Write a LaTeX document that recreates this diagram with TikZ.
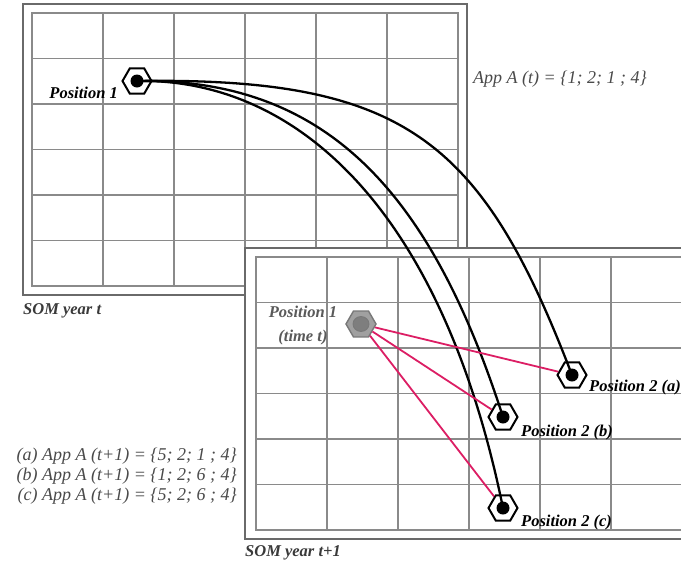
\documentclass[tikz,border=0pt]{standalone}
\usepackage{fontspec}
\setmainfont{Liberation Serif}
\usetikzlibrary{shapes.geometric}
\definecolor{gridc}{HTML}{8A8A8A}
\definecolor{framec}{HTML}{6A6A6A}
\definecolor{pinkc}{HTML}{DC1E64}
\definecolor{txtgray}{HTML}{4A4A4A}
\definecolor{lblgray}{HTML}{5A5A5A}
\definecolor{somgray}{HTML}{3A3A3A}
\definecolor{hexfill}{HTML}{A0A0A0}
\definecolor{hexborder}{HTML}{787878}
\definecolor{hexcore}{HTML}{7E7E7E}
\begin{document}
\begin{tikzpicture}[x=1pt,y=-1pt,
  hexb/.style={regular polygon, regular polygon sides=6, minimum size=29pt, inner sep=0pt, draw=black, line width=2pt},
  hexg/.style={regular polygon, regular polygon sides=6, minimum size=30pt, inner sep=0pt, draw=hexborder, fill=hexfill, line width=1.4pt},
  gridline/.style={draw=gridc, line width=1.4pt},
  frameline/.style={draw=framec, line width=2.6pt},
  lbl/.style={font=\fontsize{16.5}{24}\selectfont\bfseries\itshape, inner sep=0pt},
  eq/.style={font=\fontsize{18}{22}\selectfont\itshape, text=txtgray, inner sep=0pt},
  som/.style={font=\fontsize{16.5}{20}\selectfont\bfseries\itshape, text=somgray, inner sep=0pt},
  move/.style={line width=2.3pt, draw=black},
  link/.style={line width=1.8pt, draw=pinkc}]
\useasboundingbox (0,0) rectangle (681,568);
\clip (0,0) rectangle (681,568);
\fill[white] (0,0) rectangle (681,568);

% SOM year t
\filldraw[frameline, fill=white] (23,4) rectangle (467,295);
\foreach \x in {103,174,245,316,387} \draw[gridline] (\x,13) -- (\x,286);
\foreach \y in {58.5,104,149.5,195,240.5} \draw[gridline] (32,\y) -- (458,\y);
\draw[gridline] (32,13) rectangle (458,286);

% SOM year t+1
\filldraw[frameline, fill=white] (245,248) rectangle (692,539);
\foreach \x in {327,398,469,540,611} \draw[gridline] (\x,257) -- (\x,530);
\foreach \y in {302.5,348,393.5,439,484.5} \draw[gridline] (256,\y) -- (682,\y);
\draw[gridline] (256,257) rectangle (682,530);

% hexagon nodes
\node[hexb] (p1) at (137,81) {};
\node[hexg] (g) at (361,324) {};
\node[hexb] (p2a) at (572,375) {};
\node[hexb] (p2b) at (503,417) {};
\node[hexb] (p2c) at (503,508) {};
\fill[hexcore, draw=hexborder, line width=0.8pt] (g.center) ellipse (8pt and 7.5pt);

% movements
\draw[move] (p1.center) .. controls (405,77) and (482,140) .. (p2a.center);
\draw[move] (p1.center) .. controls (325,78) and (430,190) .. (p2b.center);
\draw[move] (p1.center) .. controls (290,78) and (440,200) .. (p2c.center);

% links
\draw[link] (g) -- (p2a);
\draw[link] (g) -- (p2b);
\draw[link] (g) -- (p2c);

% dots
\foreach \n in {p1,p2a,p2b,p2c} \fill[black] (\n.center) circle (6.5pt);

% labels
\node[lbl, anchor=base east] (l1) at (118,98) {Position 1};
\node[lbl, text=lblgray, align=center] (l1t) at (303,326) {Position 1\\(time t)};
\node[lbl, anchor=base west] (la) at (589,391) {Position 2 (a)};
\node[lbl, anchor=base west] (lb) at (521,436) {Position 2 (b)};
\node[lbl, anchor=base west] (lc) at (521,526) {Position 2 (c)};

\node[eq, anchor=base west] (appt) at (473,83) {App A (t) = \{1; 2; 1 ; 4\}};
\node[eq, anchor=base east] (ea) at (237,460) {(a) App A (t+1) = \{5; 2; 1 ; 4\}};
\node[eq, anchor=base east] (eb) at (237,480) {(b) App A (t+1) = \{1; 2; 6 ; 4\}};
\node[eq, anchor=base east] (ec) at (237,500) {(c) App A (t+1) = \{5; 2; 6 ; 4\}};

\node[som, anchor=base west] (somt) at (23,314) {SOM year t};
\node[som, anchor=base west] (somt1) at (245,556) {SOM year t+1};
\end{tikzpicture}
\end{document}
